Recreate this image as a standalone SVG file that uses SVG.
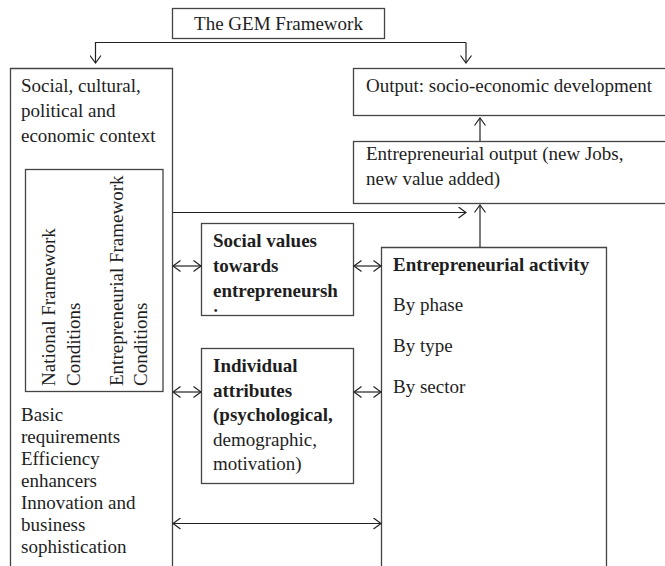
<svg xmlns="http://www.w3.org/2000/svg" width="665" height="566" viewBox="0 0 665 566">
  <style>
    .box { fill: #ffffff; stroke: #444444; stroke-width: 1.3; }
    .wire { fill: none; stroke: #222222; stroke-width: 1.2; }
    text { font-family: "Liberation Serif", "Times New Roman", serif; font-size: 19px; fill: #1e1e1e; }
    .b { font-weight: bold; }
  </style>
  <defs>
    <marker id="arrow" viewBox="-9 -6 10 12" refX="0" refY="0" markerWidth="10" markerHeight="12" markerUnits="userSpaceOnUse" orient="auto-start-reverse">
      <path d="M-7.5,-5.5 L0,0 L-7.5,5.5" fill="none" stroke="#222222" stroke-width="1.2"/>
    </marker>
    <clipPath id="socialClip">
      <rect x="201" y="223" width="152" height="89"/>
    </clipPath>
  </defs>

  <!-- title -->
  <g id="gem">
    <rect class="box" x="172.5" y="8.5" width="212" height="30"/>
    <text x="278.5" y="30" text-anchor="middle">The GEM Framework</text>
  </g>

  <!-- context column -->
  <g id="context">
    <path class="box" d="M10.5,570 V68.5 H172.5 V570"/>
    <text x="21" y="92">Social, cultural,</text>
    <text x="21" y="117">political and</text>
    <text x="21" y="142">economic context</text>
    <text x="21" y="421">Basic</text>
    <text x="21" y="443">requirements</text>
    <text x="21" y="465">Efficiency</text>
    <text x="21" y="487">enhancers</text>
    <text x="21" y="509">Innovation and</text>
    <text x="21" y="531">business</text>
    <text x="21" y="553">sophistication</text>
  </g>

  <!-- framework conditions -->
  <g id="conditions">
    <rect class="box" x="25.5" y="169.5" width="137.5" height="222"/>
    <text transform="translate(55,386) rotate(-90)">National Framework</text>
    <text transform="translate(80,386) rotate(-90)">Conditions</text>
    <text transform="translate(123,386) rotate(-90)">Entrepreneurial Framework</text>
    <text transform="translate(147,386) rotate(-90)">Conditions</text>
  </g>

  <!-- outputs -->
  <g id="output">
    <rect class="box" x="353.5" y="68.5" width="320" height="47"/>
    <text x="366" y="92">Output: socio-economic development</text>
  </g>
  <g id="entrepreneurial-output">
    <rect class="box" x="353.5" y="141.5" width="320" height="62"/>
    <text x="366" y="160">Entrepreneurial output (new Jobs,</text>
    <text x="366" y="185">new value added)</text>
  </g>

  <!-- middle column -->
  <g id="social-values">
    <rect class="box" x="201.5" y="223.5" width="152" height="92"/>
    <text class="b" x="213" y="247">Social values</text>
    <text class="b" x="213" y="272">towards</text>
    <text class="b" x="213" y="297">entrepreneursh</text>
    <text class="b" x="213" y="322" clip-path="url(#socialClip)">ip</text>
  </g>
  <g id="individual-attributes">
    <rect class="box" x="201.5" y="348.5" width="152" height="135"/>
    <text class="b" x="213" y="372">Individual</text>
    <text class="b" x="213" y="396.5">attributes</text>
    <text x="213" y="421"><tspan class="b">(psychological,</tspan></text>
    <text x="213" y="445.5">demographic,</text>
    <text x="213" y="470">motivation)</text>
  </g>

  <!-- activity -->
  <g id="activity">
    <path class="box" d="M381.5,570 V247.5 H606.5 V570"/>
    <text class="b" x="393" y="271">Entrepreneurial activity</text>
    <text x="393" y="311">By phase</text>
    <text x="393" y="352">By type</text>
    <text x="393" y="393">By sector</text>
  </g>

  <!-- connectors -->
  <g id="connectors">
    <path class="wire" d="M466,42.5 H95.5 V63" marker-end="url(#arrow)"/>
    <path class="wire" d="M466,42.5 V63" marker-end="url(#arrow)"/>
    <path class="wire" d="M480,141 V118" marker-end="url(#arrow)"/>
    <path class="wire" d="M480,247 V205" marker-end="url(#arrow)"/>
    <path class="wire" d="M172.5,212.5 H466" marker-end="url(#arrow)"/>
    <path class="wire" d="M173,266 H201" marker-start="url(#arrow)" marker-end="url(#arrow)"/>
    <path class="wire" d="M354,266 H381" marker-start="url(#arrow)" marker-end="url(#arrow)"/>
    <path class="wire" d="M173,392 H201" marker-start="url(#arrow)" marker-end="url(#arrow)"/>
    <path class="wire" d="M354,392 H381" marker-start="url(#arrow)" marker-end="url(#arrow)"/>
    <path class="wire" d="M173,523.5 H381" marker-start="url(#arrow)" marker-end="url(#arrow)"/>
  </g>
</svg>
